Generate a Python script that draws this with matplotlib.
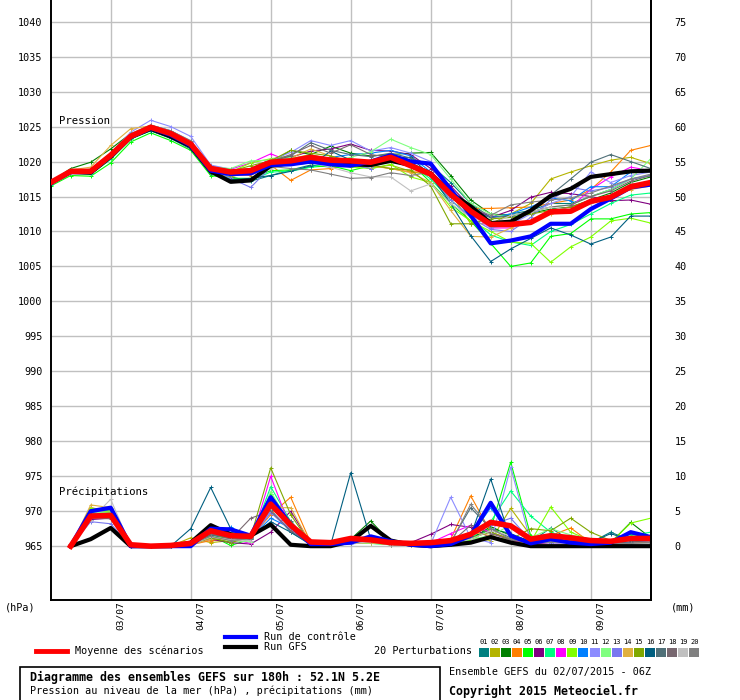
import matplotlib
matplotlib.use("Agg")
import matplotlib.pyplot as plt
from matplotlib.lines import Line2D
from matplotlib.patches import Rectangle
from matplotlib.transforms import ScaledTranslation

# ---------------- data ----------------
hours_p = list(range(0, 181, 6))      # pressure: 0..180 h
hours_r = list(range(6, 181, 6))      # precipitation: 6..180 h
date_hours = [18, 42, 66, 90, 114, 138, 162]
date_labels = ["03/07", "04/07", "05/07", "06/07", "07/07", "08/07", "09/07"]
left_ticks = list(range(965, 1041, 5))
right_ticks = list(range(0, 76, 5))

member_colors = ["#008080", "#b4b400", "#008000", "#ff8000", "#00ff00",
                 "#800080", "#00ff80", "#ff00ff", "#80ff00", "#0080ff",
                 "#8c8cff", "#80ff80", "#7878f0", "#e0b040", "#80a800",
                 "#005f80", "#507078", "#786870", "#c0c0c0", "#808080"]

mean_p = [1017.0, 1018.6, 1018.6, 1020.9, 1023.6, 1024.9, 1024.0, 1022.5, 1019.0, 1018.5,
          1018.7, 1019.9, 1020.1, 1020.6, 1020.2, 1020.1, 1019.9, 1020.6, 1019.4, 1018.2,
          1015.3, 1012.9, 1011.0, 1011.0, 1011.3, 1012.8, 1012.9, 1014.3, 1014.9, 1016.4, 1017.0]
ctrl_p = [1016.9, 1018.5, 1018.5, 1020.8, 1023.5, 1024.8, 1023.8, 1022.3, 1018.7, 1018.2,
          1018.3, 1019.5, 1019.6, 1020.0, 1019.6, 1019.4, 1020.0, 1020.9, 1020.0, 1019.7,
          1016.0, 1012.3, 1008.3, 1008.7, 1009.3, 1011.1, 1011.1, 1013.2, 1014.7, 1016.3, 1016.7]
gfs_p = [1017.0, 1018.5, 1018.4, 1020.7, 1023.5, 1024.7, 1023.6, 1022.2, 1018.6, 1017.1,
         1017.3, 1019.4, 1019.8, 1020.0, 1019.8, 1019.6, 1019.5, 1020.1, 1019.5, 1018.3,
         1015.5, 1013.6, 1011.2, 1011.4, 1013.0, 1015.1, 1016.1, 1017.8, 1018.2, 1018.6, 1018.7]

p01 = [1016.8, 1018.3, 1018.4, 1020.6, 1023.3, 1024.6, 1023.8, 1022.3, 1018.6, 1017.8, 1017.2, 1018.0, 1018.8, 1019.5, 1019.2, 1019.3, 1019.8, 1021.0, 1020.2,
       1019.5, 1017.0, 1014.0, 1012.0, 1012.5, 1013.0, 1014.0, 1014.0, 1015.0, 1016.0, 1017.5, 1018.0]
p02 = [1016.9, 1018.7, 1018.9, 1021.0, 1023.8, 1024.7, 1023.6, 1022.0, 1018.2, 1017.8, 1018.6, 1019.5, 1020.4, 1021.0, 1020.3, 1019.6, 1019.0, 1019.5, 1018.6,
       1018.0, 1015.5, 1011.1, 1011.1, 1012.5, 1014.0, 1017.5, 1018.5, 1019.4, 1020.2, 1020.6, 1019.7]
p03 = [1017.1, 1019.0, 1019.9, 1021.8, 1024.0, 1024.4, 1023.4, 1022.0, 1018.5, 1018.2, 1018.4, 1019.8, 1021.6, 1021.0, 1022.2, 1021.2, 1020.8, 1021.0, 1021.2,
       1021.3, 1018.0, 1014.5, 1012.5, 1012.3, 1012.6, 1013.2, 1013.5, 1014.5, 1015.5, 1017.0, 1017.8]
p04 = [1017.0, 1018.5, 1018.6, 1021.2, 1023.8, 1025.0, 1024.1, 1022.6, 1018.9, 1018.2, 1018.0, 1019.5, 1017.3, 1018.8, 1019.0, 1019.8, 1019.4, 1019.0, 1018.5,
       1018.5, 1015.0, 1013.3, 1013.3, 1013.4, 1013.5, 1014.0, 1014.5, 1016.0, 1018.5, 1021.6, 1022.3]
p05 = [1016.5, 1018.0, 1017.9, 1019.8, 1022.8, 1024.1, 1023.0, 1021.6, 1018.0, 1017.6, 1017.6, 1018.7, 1018.8, 1019.2, 1019.4, 1018.7, 1019.4, 1020.2, 1019.8,
       1017.0, 1014.0, 1011.5, 1008.3, 1005.0, 1005.5, 1009.3, 1009.7, 1011.8, 1011.8, 1012.5, 1012.7]
p06 = [1017.0, 1018.6, 1018.7, 1021.0, 1023.7, 1024.9, 1024.0, 1022.4, 1018.8, 1018.7, 1019.0, 1020.3, 1020.6, 1021.5, 1021.8, 1022.5, 1021.6, 1021.5, 1021.0,
       1019.0, 1016.5, 1013.5, 1012.0, 1013.0, 1014.9, 1015.6, 1015.4, 1015.0, 1014.4, 1014.5, 1013.9]
p07 = [1016.7, 1018.4, 1018.2, 1020.3, 1023.2, 1024.4, 1023.5, 1022.0, 1018.4, 1017.5, 1017.3, 1018.5, 1018.6, 1019.2, 1019.8, 1020.2, 1020.0, 1020.4, 1019.6,
       1017.5, 1014.5, 1012.0, 1009.5, 1008.5, 1008.0, 1010.0, 1011.0, 1012.5, 1014.0, 1015.2, 1015.5]
p08 = [1017.0, 1018.6, 1018.8, 1021.1, 1023.8, 1025.1, 1024.2, 1022.8, 1019.3, 1018.9, 1019.8, 1021.1, 1020.0, 1020.8, 1020.5, 1020.3, 1019.8, 1020.8, 1019.6,
       1018.5, 1015.5, 1012.5, 1010.5, 1010.5, 1011.5, 1013.0, 1013.5, 1016.0, 1017.8, 1019.2, 1018.7]
p09 = [1016.8, 1018.5, 1018.4, 1020.5, 1023.4, 1024.6, 1023.8, 1022.2, 1018.8, 1018.5, 1019.8, 1020.4, 1020.8, 1020.0, 1019.6, 1019.2, 1019.0, 1019.6, 1017.8,
       1017.0, 1013.5, 1011.5, 1010.0, 1008.5, 1008.3, 1005.6, 1007.8, 1009.2, 1011.5, 1011.9, 1011.2]
p10 = [1017.0, 1018.7, 1018.5, 1020.8, 1023.5, 1024.8, 1024.0, 1022.5, 1019.0, 1018.6, 1018.8, 1019.6, 1020.2, 1020.4, 1020.6, 1021.0, 1021.2, 1021.6, 1020.8,
       1018.5, 1015.5, 1013.0, 1012.0, 1012.5, 1013.5, 1014.8, 1014.4, 1016.4, 1016.4, 1018.5, 1018.8]
p11 = [1017.0, 1018.5, 1018.7, 1021.2, 1024.2, 1025.9, 1025.0, 1023.6, 1019.5, 1018.9, 1018.8, 1020.2, 1021.3, 1023.0, 1022.3, 1023.0, 1021.5, 1022.0, 1021.2,
       1020.0, 1016.0, 1013.0, 1010.5, 1011.0, 1012.5, 1014.0, 1015.0, 1018.5, 1017.0, 1018.0, 1018.5]
p12 = [1016.9, 1018.6, 1018.5, 1020.7, 1023.6, 1024.8, 1024.1, 1022.6, 1019.2, 1019.0, 1020.1, 1020.2, 1020.6, 1020.4, 1020.0, 1020.6, 1021.4, 1023.2, 1022.0,
       1021.0, 1017.5, 1014.0, 1012.5, 1012.0, 1012.8, 1013.5, 1013.8, 1015.0, 1016.0, 1017.5, 1020.4]
p13 = [1016.8, 1018.4, 1018.3, 1020.6, 1023.5, 1025.2, 1024.4, 1022.8, 1019.0, 1017.6, 1016.3, 1019.2, 1020.0, 1020.6, 1020.0, 1019.6, 1019.0, 1020.6, 1020.0,
       1018.0, 1014.5, 1012.0, 1010.3, 1010.0, 1012.0, 1014.5, 1016.3, 1015.8, 1016.3, 1017.5, 1018.0]
p14 = [1016.9, 1018.8, 1019.2, 1022.3, 1024.7, 1025.1, 1024.3, 1022.7, 1019.2, 1018.8, 1019.0, 1019.4, 1020.5, 1021.8, 1020.8, 1019.8, 1019.4, 1019.0, 1018.4,
       1017.0, 1013.0, 1009.3, 1009.2, 1010.5, 1011.5, 1012.5, 1013.0, 1014.0, 1015.0, 1016.0, 1016.5]
p15 = [1017.0, 1018.6, 1018.6, 1020.8, 1023.6, 1024.6, 1023.6, 1022.0, 1018.4, 1018.6, 1019.4, 1020.1, 1021.6, 1021.2, 1020.8, 1020.0, 1019.5, 1019.0, 1018.8,
       1016.5, 1011.1, 1011.1, 1011.8, 1012.0, 1012.5, 1013.0, 1013.5, 1014.5, 1015.0, 1016.5, 1017.0]
p16 = [1016.8, 1018.4, 1018.5, 1020.7, 1023.3, 1024.4, 1023.3, 1021.8, 1018.3, 1017.4, 1017.6, 1018.0, 1018.6, 1019.4, 1021.5, 1020.2, 1020.0, 1020.4, 1020.6,
       1018.0, 1014.0, 1009.4, 1005.7, 1007.5, 1009.0, 1010.5, 1009.5, 1008.2, 1009.2, 1012.2, 1012.2]
p17 = [1017.0, 1018.6, 1018.8, 1021.0, 1023.9, 1025.2, 1024.4, 1022.9, 1019.2, 1018.7, 1018.9, 1020.0, 1020.8, 1022.7, 1021.6, 1021.0, 1020.7, 1021.2, 1020.5,
       1019.5, 1016.0, 1013.0, 1012.0, 1012.2, 1013.0, 1015.2, 1017.5, 1019.9, 1021.0, 1020.0, 1019.0]
p18 = [1016.9, 1018.4, 1018.6, 1020.9, 1023.6, 1025.0, 1024.2, 1022.6, 1019.0, 1018.4, 1018.7, 1020.0, 1021.0, 1022.3, 1021.2, 1022.4, 1021.0, 1020.6, 1019.7,
       1018.2, 1015.0, 1012.5, 1011.0, 1011.5, 1012.8, 1013.5, 1013.8, 1015.0, 1015.8, 1017.2, 1018.0]
p19 = [1016.9, 1018.3, 1018.5, 1020.8, 1023.8, 1025.2, 1024.4, 1022.9, 1019.0, 1018.2, 1018.4, 1019.0, 1019.6, 1019.8, 1019.2, 1018.4, 1017.8, 1017.8, 1015.8,
       1016.8, 1014.0, 1012.0, 1011.0, 1012.3, 1012.8, 1013.5, 1013.0, 1014.0, 1015.2, 1016.8, 1017.0]
p20 = [1017.1, 1018.6, 1018.9, 1021.2, 1024.0, 1025.2, 1024.4, 1023.0, 1019.3, 1018.8, 1018.7, 1019.3, 1019.0, 1018.8, 1018.2, 1017.6, 1017.7, 1018.4, 1018.0,
       1018.5, 1016.0, 1013.5, 1012.3, 1013.8, 1014.2, 1014.5, 1014.8, 1015.5, 1016.5, 1017.5, 1018.2]

mean_r = [0.0, 4.3, 4.4, 0.2, 0.0, 0.1, 0.4, 2.2, 1.5, 1.4, 6.0, 3.0, 0.6, 0.5, 1.1,
          0.9, 0.5, 0.4, 0.5, 0.8, 1.7, 3.4, 2.9, 1.0, 1.5, 1.2, 0.8, 0.7, 1.1, 1.1]
ctrl_r = [0.0, 5.0, 5.5, 0.0, 0.0, 0.0, 0.0, 2.5, 2.4, 1.5, 7.0, 3.0, 0.3, 0.3, 0.5,
          1.4, 0.7, 0.2, 0.0, 0.3, 1.5, 6.2, 1.5, 0.4, 1.0, 0.5, 0.3, 0.5, 2.0, 1.3]
gfs_r = [0.0, 1.0, 2.6, 0.0, 0.0, 0.0, 0.5, 3.0, 1.7, 1.5, 3.1, 0.2, 0.0, 0.0, 0.7,
         2.9, 0.8, 0.2, 0.0, 0.2, 0.5, 1.3, 0.5, 0.0, 0.0, 0.0, 0.0, 0.0, 0.0, 0.0]

r01 = [0, 4.8, 4.5, 0, 0, 0, 0.3, 1.6, 1.0, 1.2, 5.2, 2.0, 0.2, 0.3, 0.8, 1.0, 0.4, 0.2, 0.2, 0.5, 1.2, 2.5, 1.8, 0.6, 2.6, 0.8, 0.5, 2.0, 0.8, 1.0]
r02 = [0, 4.0, 4.2, 0, 0, 0, 1.2, 0.5, 0.8, 1.5, 5.8, 2.5, 0.3, 0.2, 0.6, 0.8, 0.3, 0.2, 0.4, 0.8, 1.3, 0.8, 5.4, 1.5, 0.6, 0.8, 0.4, 0.3, 0.6, 0.8]
r03 = [0, 5.2, 5.0, 0, 0, 0, 0.5, 1.2, 0.5, 1.8, 6.5, 2.8, 0.4, 0.2, 1.0, 3.6, 0.6, 0.3, 0.3, 0.4, 1.0, 2.8, 1.5, 0.8, 1.2, 0.6, 0.3, 0.5, 3.4, 1.2]
r04 = [0, 5.5, 5.0, 0, 0, 0, 0.2, 0.8, 1.0, 1.2, 4.5, 7.0, 0.5, 0.2, 0.4, 0.6, 0.3, 0.2, 0.5, 1.0, 7.2, 2.0, 1.0, 0.8, 1.5, 2.6, 0.5, 0.4, 0.8, 1.0]
r05 = [0, 4.6, 4.8, 0, 0, 0, 0.2, 1.5, 0.1, 1.0, 7.5, 3.0, 0.3, 0.2, 0.8, 0.6, 0.2, 0.1, 0.2, 0.4, 0.8, 2.5, 12.0, 1.5, 0.5, 1.0, 0.6, 0.3, 1.8, 1.0]
r06 = [0, 3.8, 4.0, 0, 0, 0, 0.3, 1.0, 0.5, 0.3, 2.0, 5.0, 0.4, 0.3, 0.8, 1.0, 0.3, 0.5, 1.7, 3.1, 2.7, 1.2, 0.8, 0.3, 0.5, 0.4, 0.2, 0.3, 0.5, 0.6]
r07 = [0, 5.0, 5.2, 0, 0, 0, 0.2, 1.8, 1.2, 0.8, 8.5, 3.5, 0.3, 0.2, 0.5, 0.4, 0.2, 0.1, 0.2, 0.3, 1.0, 3.5, 7.9, 4.3, 2.0, 1.0, 1.0, 0.6, 1.5, 2.0]
r08 = [0, 4.4, 4.6, 0, 0, 0, 0.3, 2.8, 1.0, 0.4, 10.0, 2.5, 0.2, 0.2, 0.6, 0.8, 0.2, 0.1, 0.5, 1.8, 3.0, 2.0, 0.8, 0.4, 1.0, 0.6, 0.3, 0.2, 0.5, 0.8]
r09 = [0, 5.5, 4.8, 0, 0, 0, 0.4, 1.2, 1.4, 1.6, 5.5, 3.2, 0.3, 0.1, 0.4, 0.5, 0.2, 0.1, 0.1, 0.3, 0.8, 1.2, 1.0, 0.6, 5.6, 2.0, 0.8, 0.5, 3.3, 4.0]
r10 = [0, 4.9, 5.3, 0, 0, 0, 0.3, 1.8, 2.7, 1.2, 4.0, 2.6, 0.4, 0.3, 0.4, 0.9, 0.4, 0.2, 0.2, 0.5, 1.5, 5.5, 1.5, 0.4, 0.8, 0.5, 0.2, 0.3, 1.2, 0.8]
r11 = [0, 4.2, 4.0, 0, 0, 0, 0.2, 2.5, 1.5, 1.2, 5.0, 2.4, 0.3, 0.2, 0.3, 0.6, 0.2, 0.2, 0.3, 7.0, 1.2, 0.5, 11.3, 0.6, 0.5, 0.4, 0.3, 0.3, 0.5, 0.6]
r12 = [0, 4.7, 4.9, 0, 0, 0, 0.2, 1.4, 0.8, 0.6, 7.8, 3.0, 0.2, 0.1, 0.5, 0.4, 0.2, 0.1, 0.2, 0.4, 1.0, 1.5, 3.0, 1.2, 2.5, 1.6, 1.0, 0.8, 1.0, 1.5]
r13 = [0, 3.5, 3.2, 0, 0, 0, 0.3, 2.0, 1.3, 1.0, 4.8, 2.2, 0.3, 0.2, 0.4, 0.6, 0.3, 0.2, 0.3, 0.8, 1.8, 3.0, 4.0, 0.8, 0.6, 0.5, 0.4, 0.3, 0.6, 0.7]
r14 = [0, 5.9, 5.5, 0, 0, 0, 0.2, 1.0, 1.2, 1.6, 5.5, 5.5, 0.3, 0.2, 0.4, 0.5, 0.2, 0.2, 0.3, 0.6, 2.0, 1.5, 0.6, 0.5, 0.8, 0.6, 0.4, 0.2, 0.4, 0.6]
r15 = [0, 4.4, 4.3, 0, 0, 0, 0.3, 1.2, 0.5, 1.3, 11.2, 4.5, 0.3, 0.2, 0.5, 0.6, 0.2, 0.1, 0.2, 0.5, 1.2, 2.0, 1.0, 2.5, 2.2, 4.0, 2.0, 0.8, 1.0, 1.2]
r16 = [0, 4.6, 4.4, 0, 0, 0, 2.5, 8.4, 2.5, 1.3, 3.5, 2.0, 0.3, 0.2, 10.5, 1.0, 0.4, 0.2, 0.2, 0.6, 1.5, 9.6, 1.0, 0.5, 0.8, 0.6, 0.5, 1.8, 0.8, 1.0]
r17 = [0, 4.3, 4.7, 0, 0, 0, 0.3, 1.6, 1.2, 1.0, 6.8, 3.6, 0.3, 0.2, 0.5, 0.7, 0.2, 0.1, 0.3, 0.6, 5.5, 2.5, 1.2, 0.8, 1.0, 0.7, 0.5, 0.4, 0.6, 0.8]
r18 = [0, 4.1, 3.9, 0, 0, 0, 0.2, 1.8, 1.0, 4.0, 5.0, 2.2, 0.3, 0.2, 0.5, 0.7, 0.3, 0.2, 0.2, 0.5, 3.0, 1.8, 0.9, 0.5, 0.6, 0.5, 0.3, 0.2, 0.4, 0.5]
r19 = [0, 3.8, 6.7, 0, 0, 0, 0.2, 1.3, 0.9, 0.8, 5.5, 2.8, 0.3, 0.2, 0.4, 0.6, 0.2, 0.1, 0.2, 0.4, 1.0, 2.2, 1.5, 0.5, 0.6, 0.4, 0.2, 0.2, 0.3, 0.4]
r20 = [0, 4.0, 4.1, 0, 0, 0, 0.3, 1.4, 0.8, 1.1, 6.2, 2.6, 0.3, 0.2, 0.5, 0.8, 0.3, 0.1, 0.2, 0.4, 6.0, 2.5, 1.0, 0.4, 0.6, 0.5, 0.3, 0.2, 0.4, 0.5]

members_p = [p01, p02, p03, p04, p05, p06, p07, p08, p09, p10,
             p11, p12, p13, p14, p15, p16, p17, p18, p19, p20]
members_r = [r01, r02, r03, r04, r05, r06, r07, r08, r09, r10,
             r11, r12, r13, r14, r15, r16, r17, r18, r19, r20]

PRECIP_BASE = 965.0  # precipitation 0 mm is drawn at the 965 hPa line

# ---------------- figure ----------------
W, H = 740, 700
fig = plt.figure(figsize=(W / 100, H / 100), dpi=100)
fig.patch.set_facecolor("white")
MONO = ["DejaVu Sans Mono"]
FS = 7.3

ax_l, ax_r, ax_t, ax_b = 50.7, 650.7, 0.0, 600.0
ax = fig.add_axes([ax_l / W, 1 - ax_b / H, (ax_r - ax_l) / W, (ax_b - ax_t) / H])
ymin, ymax = 957.3, 1043.1
ax.set_xlim(0, 180)
ax.set_ylim(ymin, ymax)

# grid
for h in date_hours:
    ax.axvline(h, color="#c0c0c0", lw=1.0, zorder=0)
for v in left_ticks:
    ax.axhline(v, color="#c0c0c0", lw=1.0, zorder=0)

ax.spines["top"].set_visible(False)
for s in ["left", "right", "bottom"]:
    ax.spines[s].set_linewidth(1.4)
    ax.spines[s].set_color("black")

ax.set_yticks(left_ticks)
ax.set_yticklabels([str(v) for v in left_ticks], fontsize=FS, family=MONO)
ax.tick_params(axis="y", length=0, pad=6)
ax.set_xticks(date_hours)
ax.set_xticklabels(date_labels, rotation=90, fontsize=6.8, family=MONO, va="top", ha="center")
ax.tick_params(axis="x", length=0, pad=1.2)
offset = ScaledTranslation(10 / 100, 0, fig.dpi_scale_trans)
for lab in ax.get_xticklabels():
    lab.set_transform(lab.get_transform() + offset)

ax2 = ax.twinx()
ax2.set_ylim(ymin - PRECIP_BASE, ymax - PRECIP_BASE)
ax2.set_yticks(right_ticks)
ax2.set_yticklabels([str(v) for v in right_ticks], fontsize=FS, family=MONO)
ax2.tick_params(axis="y", length=0, pad=17)
for s in ["top", "left", "bottom"]:
    ax2.spines[s].set_visible(False)
ax2.spines["right"].set_linewidth(1.4)

# members
for c, pp, rr in zip(member_colors, members_p, members_r):
    ax.plot(hours_p, pp, color=c, lw=0.8, marker="+", ms=3, mew=0.7, zorder=2)
    ax.plot(hours_r, [PRECIP_BASE + v for v in rr], color=c, lw=0.8,
            marker="+", ms=3, mew=0.7, zorder=2)

ax.plot(hours_p, gfs_p, color="black", lw=3.0, zorder=3)
ax.plot(hours_r, [PRECIP_BASE + v for v in gfs_r], color="black", lw=3.0, zorder=3)
ax.plot(hours_p, ctrl_p, color="#0000ff", lw=3.0, zorder=4)
ax.plot(hours_r, [PRECIP_BASE + v for v in ctrl_r], color="#0000ff", lw=3.0, zorder=4)
ax.plot(hours_p, mean_p, color="#ff0000", lw=4.0, zorder=5)
ax.plot(hours_r, [PRECIP_BASE + v for v in mean_r], color="#ff0000", lw=4.0, zorder=5)

ax.text(2.5, 1025.8, "Pression", fontsize=FS + 0.4, family=MONO, va="center", ha="left")
ax.text(2.5, 972.8, "Précipitations", fontsize=FS + 0.4, family=MONO, va="center", ha="left")

def ft(x, y, s, **kw):
    kw.setdefault("fontsize", FS)
    kw.setdefault("family", MONO)
    kw.setdefault("va", "center")
    fig.text(x / W, 1 - y / H, s, **kw)

ft(20, 607, "(hPa)", ha="center")
ft(683, 607, "(mm)", ha="center")

# legend
def fline(x0, x1, y, color, lw):
    fig.add_artist(Line2D([x0 / W, x1 / W], [1 - y / H, 1 - y / H], color=color, lw=lw,
                          transform=fig.transFigure))

fline(36, 67, 651, "#ff0000", 3.5)
ft(75, 651, "Moyenne des scénarios")
fline(225, 256, 636.7, "#0000ff", 3.0)
ft(264, 636.5, "Run de contrôle")
fline(225, 256, 646.7, "black", 3.0)
ft(264, 646.5, "Run GFS")
ft(472, 651, "20 Perturbations", ha="right")
bx0, bstep, bw = 478.5, 11.1, 10.0
for i, c in enumerate(member_colors):
    fig.add_artist(Rectangle(((bx0 + i * bstep) / W, 1 - 657 / H), bw / W, 9 / H,
                             facecolor=c, edgecolor="none", transform=fig.transFigure))
    ft(bx0 + i * bstep + bw / 2, 642.5, "%02d" % (i + 1), ha="center", fontsize=5.0)

# title box
fig.add_artist(Rectangle((20 / W, 1 - 703 / H), 420 / W, 36 / H, facecolor="white",
                         edgecolor="black", lw=1.2, transform=fig.transFigure))
ft(30, 677, "Diagramme des ensembles GEFS sur 180h : 52.1N 5.2E", fontsize=8.4, weight="bold")
ft(30, 691, "Pression au niveau de la mer (hPa) , précipitations (mm)")
ft(449, 672, "Ensemble GEFS du 02/07/2015 - 06Z")
ft(449, 691, "Copyright 2015 Meteociel.fr", fontsize=8.4, weight="bold")

fig.savefig("out.png", dpi=100, facecolor="white")
